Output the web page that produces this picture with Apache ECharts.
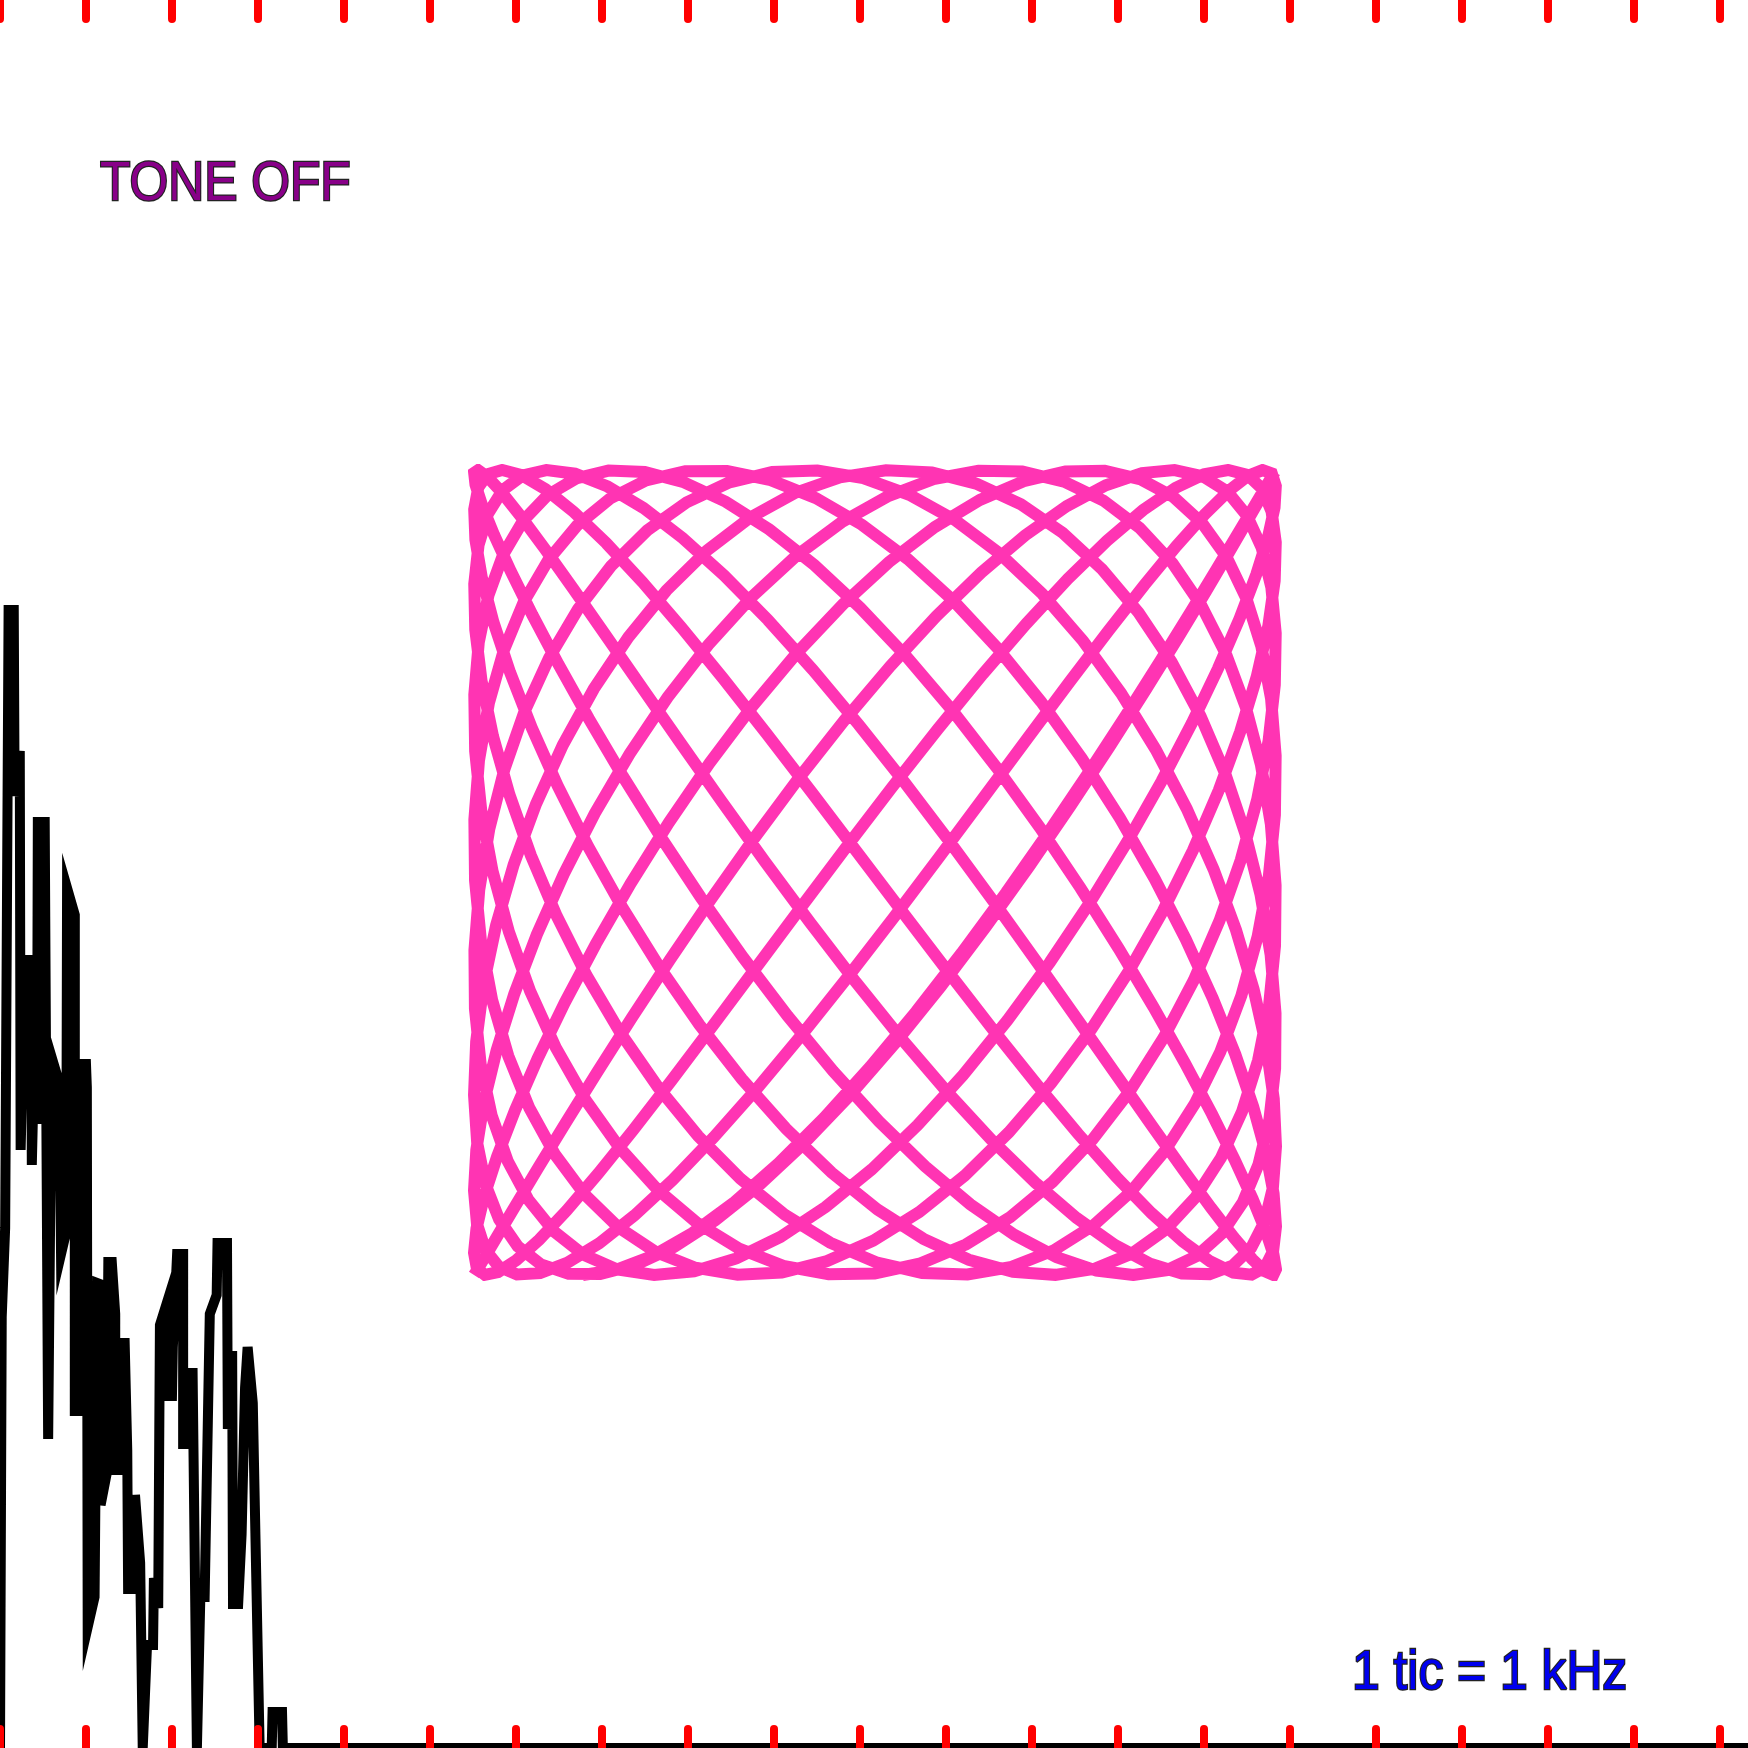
<!DOCTYPE html>
<html>
<head>
<meta charset="utf-8">
<script src="https://cdn.jsdelivr.net/npm/echarts@6/dist/echarts.min.js"></script>
<style>
html,body{margin:0;padding:0;background:#fff;}
#c{width:1748px;height:1748px;}
</style>
</head>
<body>
<div id="c"></div>
<script>
// ---- spectrum trace (frequency in kHz, level in arbitrary units) ----
const specFreq = [0,0.02,0.06,0.10,0.16,0.17,0.23,0.24,0.29,0.36,0.37,0.41,0.43,0.43,0.44,0.52,0.56,0.60,0.69,0.71,0.77,0.78,0.87,0.87,0.93,0.93,1.00,1.01,1.02,1.10,1.13,1.16,1.17,1.24,1.26,1.30,1.34,1.34,1.40,1.42,1.45,1.48,1.49,1.55,1.57,1.63,1.66,1.71,1.78,1.79,1.84,1.86,1.94,1.95,2.00,2.01,2.06,2.13,2.13,2.19,2.20,2.24,2.29,2.33,2.38,2.44,2.52,2.53,2.64,2.65,2.70,2.71,2.77,2.81,2.85,2.88,2.94,3.02,3.06,3.16,3.17,3.28,3.29,20.33];
const specLevel = [0,43.1,52.0,113.8,113.8,95.2,99.7,59.8,78.8,78.8,58.3,73.2,73.2,62.4,92.6,92.6,30.9,69.1,66.5,49.4,51.6,86.0,83.3,33.7,33.7,68.4,68.4,66.1,12.1,15.1,46.5,46.4,24.3,27.4,48.6,48.6,43.4,27.8,27.8,40.5,40.5,29.8,15.9,15.9,25.3,18.5,0,10.3,10.3,17.0,14.0,42.3,44.5,35.2,35.2,40.1,49.4,49.4,30.4,30.4,37.5,37.5,0,15.1,15.1,43.4,45.3,50.5,50.5,31.9,39.7,14.4,14.4,21.4,36.0,40.1,34.5,0,0,0,3.6,3.6,0,0];

// ---- tick marks: one tic per kHz; visible span 0 .. 20.33 kHz ----
const tickKHz = [0,1,2,3,4,5,6,7,8,9,10,11,12,13,14,15,16,17,18,19,20];
const freqSpan = [0, 20.33];

// ---- X/Y scope trace (Lissajous of the two tones) ----
const lissajousCycles = [19, 25];        // x / y oscillations per half period (counted crossings)
const lissajousPhase = [0, 0.008];
const lissajousRange = [-0.04, 1.0];     // trace start / end, in half periods
const lissajousSamples = [540];

// ---- labels ----
const labelTone = ['TONE OFF'];
const labelScale = ['1 tic = 1 kHz'];

const spectrumData = specFreq.map((f, i) => [f, specLevel[i]]);
const lissajousData = [];
for (let k = 0; k <= lissajousSamples[0]; k++) {
  const u = Math.PI * (lissajousRange[0] + (lissajousRange[1] - lissajousRange[0]) * k / lissajousSamples[0]);
  lissajousData.push([
    Math.cos(lissajousCycles[0] * u + lissajousPhase[0]),
    Math.cos(lissajousCycles[1] * u + lissajousPhase[1])
  ]);
}

const chart = echarts.init(document.getElementById('c'), null, {renderer: 'canvas'});
const tickAxis = (pos) => ({
  gridIndex: 0, type: 'value', position: pos,
  min: freqSpan[0], max: freqSpan[1], interval: 1,
  z: 10,
  axisLine: {show: false},
  axisLabel: {show: false},
  splitLine: {show: false},
  axisTick: {show: true, inside: true, length: 19, customValues: tickKHz,
    lineStyle: {color: '#ff0000', width: 8, cap: 'round'}}
});

const textStyle = (txt, x, y, fill) => ({
  type: 'text', z: 20, x: x, y: y, scaleX: 0.905, scaleY: 1,
  style: {x: 0, y: 0, text: txt,
    font: '55px "Liberation Sans", Arial, sans-serif', fill: fill,
    stroke: '#222222', lineWidth: 2.5, verticalAlign: 'middle', align: 'left'}
});

chart.setOption({
  animation: false,
  backgroundColor: '#ffffff',
  grid: [
    {left: 0, top: 0, right: 0, bottom: 0},
    {left: 474, top: 470, width: 802, height: 805}
  ],
  xAxis: [
    tickAxis('bottom'),
    tickAxis('top'),
    {gridIndex: 1, type: 'value', min: -1, max: 1, show: false}
  ],
  yAxis: [
    {gridIndex: 0, type: 'value', min: 0, max: 174.8, show: false},
    {gridIndex: 1, type: 'value', min: -1, max: 1, show: false}
  ],
  series: [
    {type: 'line', xAxisIndex: 0, yAxisIndex: 0, data: spectrumData,
     symbol: 'none', z: 2,
     lineStyle: {color: '#000000', width: 10, join: 'miter'}},
    {type: 'line', xAxisIndex: 2, yAxisIndex: 1, data: lissajousData,
     symbol: 'none', z: 2,
     lineStyle: {color: '#ff34b3', width: 12, join: 'miter'}}
  ],
  graphic: [
    textStyle(labelTone[0], 100, 185, '#880088'),
    textStyle(labelScale[0], 1352, 1674, '#0000ee')
  ]
});
</script>
</body>
</html>
